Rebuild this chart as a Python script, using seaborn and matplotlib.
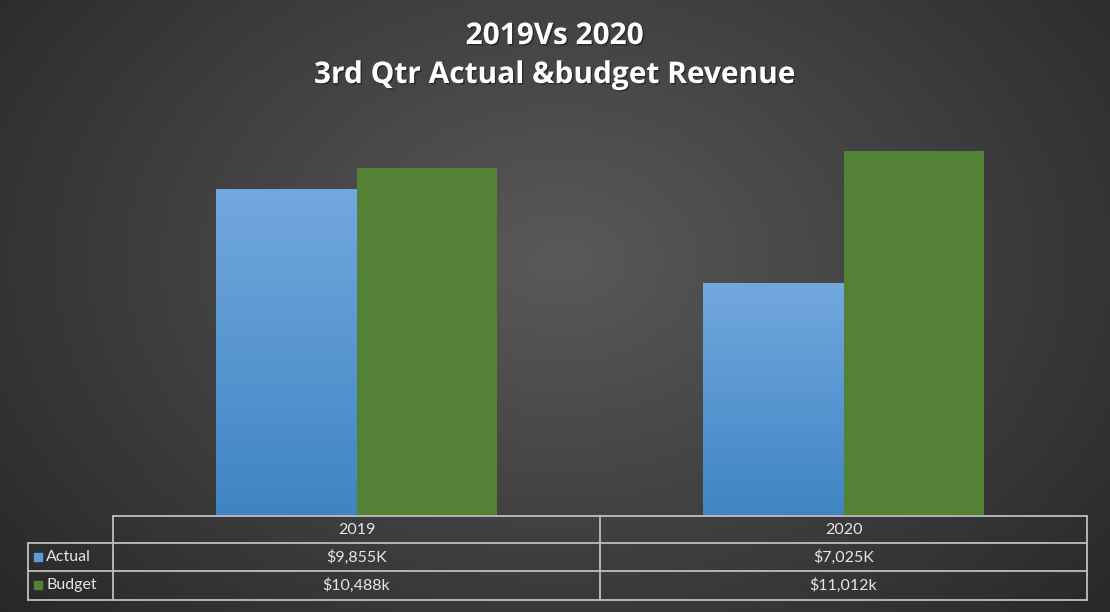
import numpy as np
import pandas as pd
import matplotlib.pyplot as plt
import seaborn as sns
from matplotlib.colors import LinearSegmentedColormap
from matplotlib.lines import Line2D
from matplotlib.patches import Rectangle
from matplotlib.transforms import blended_transform_factory
import matplotlib.patheffects as pe

# data
years = ["2019", "2020"]
series = ["Actual", "Budget"]
actual = [9855, 7025]
budget = [10488, 11012]
suffix = {"Actual": "K", "Budget": "k"}
colors = {"Actual": "#5b9bd5", "Budget": "#538135"}

df = pd.DataFrame({"Year": years * 2,
                   "Series": ["Actual"] * 2 + ["Budget"] * 2,
                   "Revenue": actual + budget})

sns.set_theme(style="white")
plt.rcParams["font.family"] = ["Lato", "DejaVu Sans"]

W, H = 1110, 612
fig = plt.figure(figsize=(W / 100, H / 100), dpi=100)

def fx(x):
    return x / W

def fy(y):
    return 1 - y / H

# -------------------------------------------------------------------
# background: dark radial gradient
bg = fig.add_axes([0, 0, 1, 1], zorder=-10)
yy, xx = np.mgrid[0:H, 0:W]
r = np.sqrt(((xx - 560) / 760) ** 2 + ((yy - 260) / 560) ** 2)
bgCmap = LinearSegmentedColormap.from_list("bg", ["#262626", "#595959"])
bg.imshow(np.clip(1 - r, 0, 1), cmap=bgCmap, vmin=0, vmax=1, aspect="auto")
bg.axis("off")

# -------------------------------------------------------------------
# bars
ax = fig.add_axes([fx(113), fy(515), fx(1087) - fx(113), fy(118) - fy(515)])
ax.patch.set_alpha(0)
sns.barplot(data=df, x="Year", y="Revenue", hue="Series", palette=colors,
            width=0.575, saturation=1, legend=False, linewidth=0, ax=ax)

blueCmap = LinearSegmentedColormap.from_list("blue", ["#3f84c4", "#72a8de"])
grad = np.linspace(1, 0, 256).reshape(-1, 1)
for bar in ax.containers[0]:
    x0, w, h = bar.get_x(), bar.get_width(), bar.get_height()
    im = ax.imshow(grad, extent=[x0, x0 + w, 0, h], cmap=blueCmap,
                   aspect="auto", zorder=bar.get_zorder() + 0.1)
    im.set_clip_path(bar)

ax.set_xlim(-0.5, 1.5)
ax.set_ylim(0, 12000)
ax.set_axis_off()

# -------------------------------------------------------------------
# data table under the plot
lineKw = dict(color="#bfbfbf", lw=1.3)
tr = blended_transform_factory(ax.transData, fig.transFigure)
rowsY = [516, 543, 571, 600]

fig.add_artist(Line2D([fx(113), fx(1087)], [fy(516), fy(516)], **lineKw))
for y in rowsY[1:]:
    fig.add_artist(Line2D([fx(28), fx(1087)], [fy(y), fy(y)], **lineKw))
fig.add_artist(Line2D([fx(28), fx(28)], [fy(543), fy(600)], **lineKw))
for i in range(len(years) + 1):
    fig.add_artist(Line2D([i - 0.5, i - 0.5], [fy(516), fy(600)],
                          transform=tr, **lineKw))

txtKw = dict(color="#e6e6e6", fontsize=11.5, ha="center", va="center")
for i, year in enumerate(years):
    fig.text(i, fy(530), year, transform=tr, **txtKw)
    fig.text(i, fy(557), f"${actual[i]:,}{suffix['Actual']}", transform=tr, **txtKw)
    fig.text(i, fy(585), f"${budget[i]:,}{suffix['Budget']}", transform=tr, **txtKw)

for name, yc in zip(series, [557, 585]):
    fig.add_artist(Rectangle((fx(34), fy(yc + 4)), fx(8), fy(yc - 4) - fy(yc + 4),
                             color=colors[name], transform=fig.transFigure))
    fig.text(fx(46), fy(yc), name, color="#e6e6e6", fontsize=11.5,
             ha="left", va="center")

# -------------------------------------------------------------------
# title
shadow = [pe.withSimplePatchShadow(offset=(1, -1), shadow_rgbFace="black", alpha=0.4)]
titleKw = dict(color="white", fontsize=21.5, fontweight="bold", ha="center",
               va="center", family=["Open Sans", "DejaVu Sans"], path_effects=shadow)
fig.text(0.5, fy(36), "2019Vs 2020", **titleKw)
fig.text(0.5, fy(75), "3rd Qtr Actual &budget Revenue", **titleKw)

fig.savefig("out.png", dpi=100)
